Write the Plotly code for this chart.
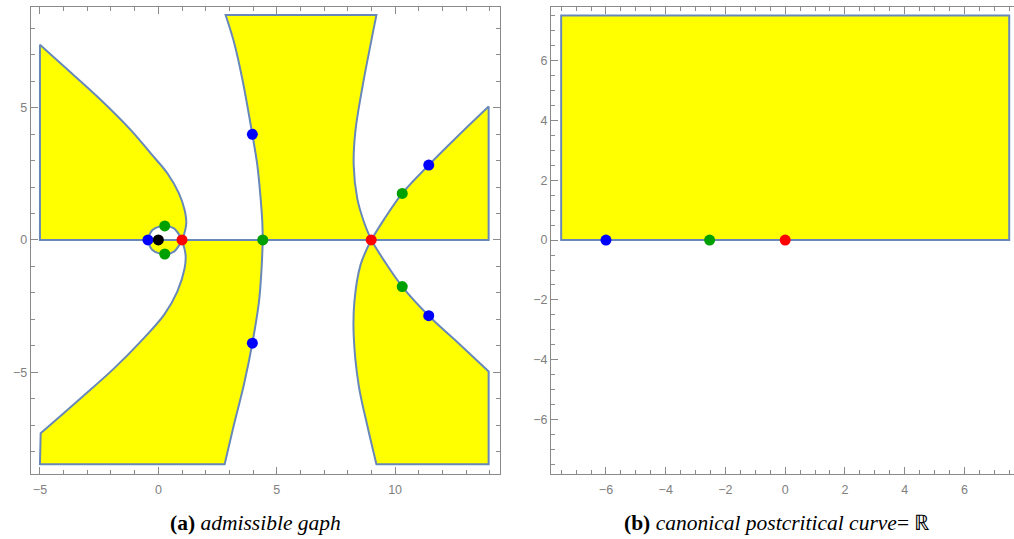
import plotly.graph_objects as go

# ---------------- data ----------------
# (a) left panel: boundary curves
LEFT_UP_X = [-5.0, -3.98, -2.57, -1.17, -0.32, 0.38, 0.87, 1.11, 1.18, 1.08, 1.0]
LEFT_UP_Y = [7.37, 6.55, 5.41, 4.16, 3.27, 2.52, 1.76, 1.13, 0.63, 0.19, 0.0]
LEFT_LO_X = [1.0, 1.15, 1.11, 0.80, 0.24, -0.75, -1.87, -3.28, -4.97]
LEFT_LO_Y = [0.0, -0.57, -1.07, -1.95, -2.83, -3.84, -4.85, -5.98, -7.30]
LOOP_X = [-0.44, -0.25, 0.27, 0.66, 1.0]
LOOP_Y = [0.0, 0.38, 0.53, 0.44, 0.0]
HG_LEFT_UP_X = [2.84, 3.19, 3.54, 3.97, 4.18, 4.32, 4.39, 4.41]
HG_LEFT_UP_Y = [8.50, 7.49, 6.11, 3.99, 2.83, 1.57, 0.69, 0.0]
HG_RIGHT_UP_X = [8.99, 8.68, 8.40, 8.25, 8.32, 8.61, 8.96, 9.21]
HG_RIGHT_UP_Y = [0.0, 0.69, 1.57, 2.83, 4.09, 5.73, 7.37, 8.50]
HG_LEFT_LO_X = [4.41, 4.36, 4.25, 3.97, 3.61, 3.19, 2.80]
HG_LEFT_LO_Y = [0.0, -1.07, -2.33, -3.90, -5.48, -6.99, -8.47]
HG_RIGHT_LO_X = [8.99, 8.54, 8.28, 8.25, 8.46, 8.82, 9.21]
HG_RIGHT_LO_Y = [0.0, -0.94, -2.33, -3.59, -5.48, -6.99, -8.47]
DIAG_UP_X = [8.99, 9.52, 10.30, 11.42, 12.62, 13.95]
DIAG_UP_Y = [0.0, 0.76, 1.76, 2.83, 3.90, 5.04]
DIAG_LO_X = [8.99, 9.52, 10.30, 11.42, 12.70, 13.95]
DIAG_LO_Y = [0.0, -0.76, -1.76, -2.86, -3.92, -4.97]
X_MIN_A, X_MAX_A = -5.0, 13.95
Y_TOP_A, Y_BOT_A = 8.50, -8.47

# (a) marked points
PTS_A = {
    "blue": ([-0.44, 3.97, 3.97, 11.42, 11.42], [0.0, 3.99, -3.90, 2.83, -2.86]),
    "green": ([0.27, 0.27, 4.41, 10.30, 10.30], [0.53, -0.53, 0.0, 1.76, -1.76]),
    "red": ([1.0, 8.99], [0.0, 0.0]),
    "black": ([0.0], [0.0]),
}

# (b) right panel: upper half-plane rectangle and points
RECT_B_X = [-7.5, 7.5]
RECT_B_Y = [0.0, 7.5]
PTS_B = {
    "blue": ([-6.0], [0.0]),
    "green": ([-2.53], [0.0]),
    "red": ([0.0], [0.0]),
}

CAPTION_A = "<b>(a)</b> <i>admissible gaph</i>"
CAPTION_B = "<b>(b)</b> <i>canonical postcritical curve</i>= ℝ"

# ---------------- styles ----------------
FILL = "#ffff00"
EDGE = "rgb(104,136,186)"
COLORS = {"blue": "#0000ff", "green": "#00a000", "red": "#ff0000", "black": "#000000"}
AX = "#8a8a8a"

fig = go.Figure()


def region(pieces, xa="x", ya="y"):
    """pieces: list of (xs, ys) curve segments; segment ends become sharp corners."""
    xs, ys = [], []
    for px, py in pieces:
        px, py = list(px), list(py)
        # duplicate end points -> sharp corners with spline smoothing
        xs += [px[0]] + px + [px[-1]]
        ys += [py[0]] + py + [py[-1]]
    xs.append(xs[0])
    ys.append(ys[0])
    fig.add_trace(go.Scatter(x=xs, y=ys, mode="lines", fill="toself",
                             fillcolor=FILL,
                             line=dict(color=EDGE, width=2, shape="spline",
                                       smoothing=1, simplify=False),
                             xaxis=xa, yaxis=ya, hoverinfo="skip", showlegend=False))


def rev(a):
    return list(a)[::-1]

# upper-left region
region([([X_MIN_A, LOOP_X[0]], [0.0, 0.0]),
        (LOOP_X, LOOP_Y),
        (LEFT_UP_X[::-1], LEFT_UP_Y[::-1]),
        ([X_MIN_A, X_MIN_A], [LEFT_UP_Y[0], 0.0])])
# lower half of loop
region([(LOOP_X, [0.0 for _ in LOOP_Y] if False else [-v for v in LOOP_Y]),
        ([LOOP_X[-1], LOOP_X[0]], [0.0, 0.0])])
# lower-left region
region([([LEFT_LO_X[0], HG_LEFT_LO_X[0]], [0.0, 0.0]),
        (HG_LEFT_LO_X, HG_LEFT_LO_Y),
        ([HG_LEFT_LO_X[-1], X_MIN_A], [Y_BOT_A, Y_BOT_A]),
        ([X_MIN_A, LEFT_LO_X[-1]], [Y_BOT_A, LEFT_LO_Y[-1]]),
        (rev(LEFT_LO_X), rev(LEFT_LO_Y))])
# upper hourglass region
region([(HG_LEFT_UP_X, HG_LEFT_UP_Y),
        ([HG_LEFT_UP_X[-1], HG_RIGHT_UP_X[0]], [0.0, 0.0]),
        (HG_RIGHT_UP_X, HG_RIGHT_UP_Y),
        ([HG_RIGHT_UP_X[-1], HG_LEFT_UP_X[0]], [Y_TOP_A, Y_TOP_A])])
# upper-right wedge
region([(DIAG_UP_X, DIAG_UP_Y),
        ([X_MAX_A, X_MAX_A], [DIAG_UP_Y[-1], 0.0]),
        ([X_MAX_A, DIAG_UP_X[0]], [0.0, 0.0])])
# lower-right region
region([(HG_RIGHT_LO_X, HG_RIGHT_LO_Y),
        ([HG_RIGHT_LO_X[-1], X_MAX_A], [Y_BOT_A, Y_BOT_A]),
        ([X_MAX_A, X_MAX_A], [Y_BOT_A, DIAG_LO_Y[-1]]),
        (rev(DIAG_LO_X), rev(DIAG_LO_Y))])

for name, (xs, ys) in PTS_A.items():
    fig.add_trace(go.Scatter(x=xs, y=ys, mode="markers",
                             marker=dict(color=COLORS[name], size=11, line=dict(width=0)),
                             xaxis="x", yaxis="y", hoverinfo="skip", showlegend=False))

# right panel
rx0, rx1 = RECT_B_X
ry0, ry1 = RECT_B_Y
region([([rx0, rx1], [ry0, ry0]), ([rx1, rx1], [ry0, ry1]),
        ([rx1, rx0], [ry1, ry1]), ([rx0, rx0], [ry1, ry0])], "x2", "y2")
for name, (xs, ys) in PTS_B.items():
    fig.add_trace(go.Scatter(x=xs, y=ys, mode="markers",
                             marker=dict(color=COLORS[name], size=11, line=dict(width=0)),
                             xaxis="x2", yaxis="y2", hoverinfo="skip", showlegend=False))


def axis(rng, dom, dtick, mdtick, anchor, mirror="allticks", standoff=0):
    return dict(range=rng, domain=dom, anchor=anchor, dtick=dtick, tick0=0,
                showline=True, linecolor=AX, linewidth=1, mirror=mirror,
                ticks="inside", ticklen=7, tickcolor=AX, tickwidth=1,
                minor=dict(dtick=mdtick, ticks="inside", ticklen=4, tickcolor=AX),
                showgrid=False, zeroline=False, ticklabelstandoff=standoff,
                tickfont=dict(family="Liberation Sans", size=12.5, color="#808080"))

YDOM = [0.1206, 0.987]
fig.update_layout(
    width=1014, height=539, margin=dict(l=0, r=0, t=0, b=0),
    plot_bgcolor="white", paper_bgcolor="white", showlegend=False,
    xaxis=axis([-5.39, 14.43], [0.0303, 0.4931], 5, 1, "y", standoff=4),
    yaxis=axis([-8.84, 8.80], YDOM, 5, 1, "x"),
    xaxis2=axis([-7.84, 7.66], [0.5434, 1.0], 2, 0.5, "y2", standoff=4),
    yaxis2=axis([-7.81, 7.78], YDOM, 2, 0.5, "x2", mirror=False),
    annotations=[
        dict(text=CAPTION_A, x=255 / 1014, y=1 - 523 / 539, xref="paper", yref="paper",
             showarrow=False, xanchor="center", yanchor="middle",
             font=dict(family="Liberation Serif", size=21.5, color="black")),
        dict(text=CAPTION_B, x=777 / 1014, y=1 - 523 / 539, xref="paper", yref="paper",
             showarrow=False, xanchor="center", yanchor="middle",
             font=dict(family="Liberation Serif", size=21.5, color="black")),
    ],
)

fig.write_html("out.html")
